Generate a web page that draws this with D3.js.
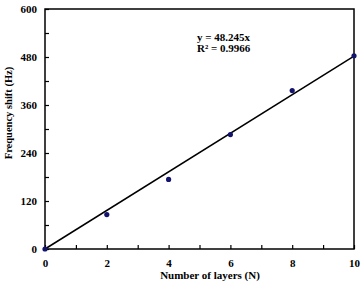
<!DOCTYPE html>
<html>
<head>
<meta charset="utf-8">
<script src="https://cdn.jsdelivr.net/npm/d3@7"></script>
<style>
  body { margin: 0; background: #fff; }
  text { font-family: "Liberation Serif", "Times New Roman", serif; font-weight: bold; fill: #000; }
</style>
</head>
<body>
<script>
var width = 361;
var height = 282;

// data
var layers = [0, 2, 4, 6, 8, 10];
var shift = [0, 86, 174, 286, 396, 483];
var slope = 48.245;
var xTicks = [0, 2, 4, 6, 8, 10];
var yTicks = [0, 120, 240, 360, 480, 600];
var fitLabels = ["y = 48.245x", "R\u00b2 = 0.9966"];

// plot box (note: "top" is a reserved window prop, so use other names)
var plotL = 45, plotR = 354, plotT = 9, plotB = 249;

var svg = d3.select("body").append("svg")
  .attr("width", width)
  .attr("height", height);

var x = d3.scaleLinear().domain([0, 10]).range([plotL, plotR]);
var y = d3.scaleLinear().domain([0, 600]).range([plotB, plotT]);

// frame
svg.append("rect")
  .attr("x", plotL).attr("y", plotT)
  .attr("width", plotR - plotL).attr("height", plotB - plotT)
  .attr("fill", "none").attr("stroke", "#000").attr("stroke-width", 1.5);

// bottom axis, ticks point inward
var xAxis = svg.append("g")
  .attr("transform", "translate(0," + plotB + ")")
  .call(d3.axisBottom(x).tickValues(d3.range(0, 11, 1)).tickSizeInner(-4).tickSizeOuter(0).tickFormat(function(d){ return xTicks.indexOf(d) >= 0 ? d : ""; }));
xAxis.select(".domain").remove();
xAxis.selectAll("line").attr("stroke", "#000").attr("stroke-width", 1.2);
xAxis.selectAll("text").attr("y", 10).attr("dy", "0.71em").style("font-size", "11px").style("font-family", null);

// left axis
var yAxis = svg.append("g")
  .attr("transform", "translate(" + plotL + ",0)")
  .call(d3.axisLeft(y).tickValues(d3.range(0, 601, 60)).tickSizeInner(-4).tickSizeOuter(0).tickFormat(function(d){ return yTicks.indexOf(d) >= 0 ? d : ""; }));
yAxis.select(".domain").remove();
yAxis.selectAll("line").attr("stroke", "#000").attr("stroke-width", 1.2);
yAxis.selectAll("text").attr("x", -8).style("font-size", "11px").style("font-family", null);

// fitted line
svg.append("line")
  .attr("x1", x(0)).attr("y1", y(0))
  .attr("x2", x(10)).attr("y2", y(slope * 10))
  .attr("stroke", "#000").attr("stroke-width", 1.5);

// points
svg.selectAll("circle.pt")
  .data(layers)
  .enter()
  .append("circle")
  .attr("class", "pt")
  .attr("cx", function(d){ return x(d); })
  .attr("cy", function(d, i){ return y(shift[i]); })
  .attr("r", 2.6)
  .attr("fill", "#14146e");

// fit text
svg.selectAll("text.fit")
  .data(fitLabels)
  .enter()
  .append("text")
  .attr("class", "fit")
  .attr("x", 197)
  .attr("y", function(d, i){ return 41 + i * 11; })
  .style("font-size", "11px")
  .text(function(d){ return d; });

// axis titles
svg.append("text")
  .attr("x", 210).attr("y", 279)
  .attr("text-anchor", "middle")
  .style("font-size", "11px")
  .text("Number of layers (N)");

svg.append("text")
  .attr("transform", "translate(12,113) rotate(-90)")
  .attr("text-anchor", "middle")
  .style("font-size", "10.5px")
  .text("Frequency shift (Hz)");
</script>
</body>
</html>
